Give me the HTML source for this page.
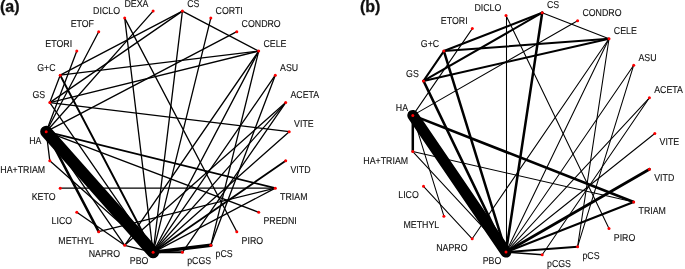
<!DOCTYPE html>
<html><head><meta charset="utf-8"><title>network</title>
<style>
html,body{margin:0;padding:0;background:#fff;}
body{width:685px;height:269px;position:relative;overflow:hidden;}
text{font-family:"Liberation Sans",sans-serif;}
.l{font-size:10px;fill:#111;stroke:#111;stroke-width:0.12px;text-rendering:geometricPrecision;}
.t{font-size:16px;font-weight:bold;fill:#111;stroke:#111;stroke-width:0.3px;}
</style></head><body>
<svg width="685" height="269" viewBox="0 0 685 269" style="position:absolute;left:0;top:0">
<line x1="46.2" y1="131.7" x2="153.1" y2="252.3" stroke="#000" stroke-width="12" stroke-linecap="round"/>
<line x1="153.1" y1="252.3" x2="210.8" y2="245.3" stroke="#000" stroke-width="3.6" stroke-linecap="round"/>
<line x1="153.1" y1="252.3" x2="182.4" y2="252.3" stroke="#000" stroke-width="1.9" stroke-linecap="round"/>
<line x1="60.2" y1="75.2" x2="153.1" y2="252.3" stroke="#000" stroke-width="1.9" stroke-linecap="round"/>
<line x1="46.2" y1="131.7" x2="275.3" y2="188.2" stroke="#000" stroke-width="1.8" stroke-linecap="round"/>
<line x1="285.7" y1="160.8" x2="153.1" y2="252.3" stroke="#000" stroke-width="1.8" stroke-linecap="round"/>
<line x1="46.2" y1="131.7" x2="98.7" y2="231.7" stroke="#000" stroke-width="2.5" stroke-linecap="round"/>
<line x1="98.7" y1="231.7" x2="275.3" y2="188.2" stroke="#000" stroke-width="1.3" stroke-linecap="round"/>
<line x1="76.8" y1="212.3" x2="124.7" y2="245.3" stroke="#000" stroke-width="1.3" stroke-linecap="round"/>
<line x1="182.4" y1="11.1" x2="60.2" y2="75.2" stroke="#000" stroke-width="1.3" stroke-linecap="round"/>
<line x1="182.4" y1="11.1" x2="49.8" y2="102.6" stroke="#000" stroke-width="1.3" stroke-linecap="round"/>
<line x1="182.4" y1="11.1" x2="258.7" y2="51.1" stroke="#000" stroke-width="1.3" stroke-linecap="round"/>
<line x1="182.4" y1="11.1" x2="153.1" y2="252.3" stroke="#000" stroke-width="1.3" stroke-linecap="round"/>
<line x1="258.7" y1="51.1" x2="60.2" y2="75.2" stroke="#000" stroke-width="1.3" stroke-linecap="round"/>
<line x1="258.7" y1="51.1" x2="49.8" y2="102.6" stroke="#000" stroke-width="1.3" stroke-linecap="round"/>
<line x1="258.7" y1="51.1" x2="124.7" y2="245.3" stroke="#000" stroke-width="1.3" stroke-linecap="round"/>
<line x1="258.7" y1="51.1" x2="153.1" y2="252.3" stroke="#000" stroke-width="1.3" stroke-linecap="round"/>
<line x1="258.7" y1="51.1" x2="210.8" y2="245.3" stroke="#000" stroke-width="1.3" stroke-linecap="round"/>
<line x1="275.3" y1="75.2" x2="153.1" y2="252.3" stroke="#000" stroke-width="1.3" stroke-linecap="round"/>
<line x1="275.3" y1="75.2" x2="210.8" y2="245.3" stroke="#000" stroke-width="1.3" stroke-linecap="round"/>
<line x1="285.7" y1="102.6" x2="124.7" y2="245.3" stroke="#000" stroke-width="1.3" stroke-linecap="round"/>
<line x1="285.7" y1="102.6" x2="153.1" y2="252.3" stroke="#000" stroke-width="1.3" stroke-linecap="round"/>
<line x1="285.7" y1="102.6" x2="182.4" y2="252.3" stroke="#000" stroke-width="1.3" stroke-linecap="round"/>
<line x1="275.3" y1="188.2" x2="153.1" y2="252.3" stroke="#000" stroke-width="1.3" stroke-linecap="round"/>
<line x1="289.2" y1="131.7" x2="49.8" y2="102.6" stroke="#000" stroke-width="1.3" stroke-linecap="round"/>
<line x1="289.2" y1="131.7" x2="153.1" y2="252.3" stroke="#000" stroke-width="1.3" stroke-linecap="round"/>
<line x1="258.7" y1="212.3" x2="46.2" y2="131.7" stroke="#000" stroke-width="1.3" stroke-linecap="round"/>
<line x1="236.8" y1="231.7" x2="124.7" y2="18.1" stroke="#000" stroke-width="1.3" stroke-linecap="round"/>
<line x1="124.7" y1="18.1" x2="153.1" y2="252.3" stroke="#000" stroke-width="1.3" stroke-linecap="round"/>
<line x1="153.1" y1="11.1" x2="46.2" y2="131.7" stroke="#000" stroke-width="1.3" stroke-linecap="round"/>
<line x1="98.7" y1="31.7" x2="46.2" y2="131.7" stroke="#000" stroke-width="1.3" stroke-linecap="round"/>
<line x1="76.8" y1="51.1" x2="46.2" y2="131.7" stroke="#000" stroke-width="1.3" stroke-linecap="round"/>
<line x1="236.8" y1="31.7" x2="46.2" y2="131.7" stroke="#000" stroke-width="1.3" stroke-linecap="round"/>
<line x1="210.8" y1="18.1" x2="153.1" y2="252.3" stroke="#000" stroke-width="1.3" stroke-linecap="round"/>
<line x1="60.2" y1="188.2" x2="275.3" y2="188.2" stroke="#000" stroke-width="1.3" stroke-linecap="round"/>
<line x1="60.2" y1="75.2" x2="49.8" y2="102.6" stroke="#000" stroke-width="1.3" stroke-linecap="round"/>
<line x1="49.8" y1="102.6" x2="153.1" y2="252.3" stroke="#000" stroke-width="1.3" stroke-linecap="round"/>
<line x1="46.2" y1="131.7" x2="49.8" y2="160.8" stroke="#000" stroke-width="1.3" stroke-linecap="round"/>
<line x1="49.8" y1="160.8" x2="153.1" y2="252.3" stroke="#000" stroke-width="1.3" stroke-linecap="round"/>
<line x1="124.7" y1="245.3" x2="153.1" y2="252.3" stroke="#000" stroke-width="1.3" stroke-linecap="round"/>
<line x1="46.2" y1="131.7" x2="124.7" y2="245.3" stroke="#000" stroke-width="1.3" stroke-linecap="round"/>
<line x1="412.8" y1="115.4" x2="506.0" y2="252.1" stroke="#000" stroke-width="11" stroke-linecap="round"/>
<line x1="412.8" y1="115.4" x2="412.8" y2="151.6" stroke="#000" stroke-width="2.5" stroke-linecap="round"/>
<line x1="412.8" y1="151.6" x2="633.7" y2="202.0" stroke="#000" stroke-width="1.05" stroke-linecap="round"/>
<line x1="412.8" y1="151.6" x2="506.0" y2="252.1" stroke="#000" stroke-width="1.05" stroke-linecap="round"/>
<line x1="412.8" y1="115.4" x2="443.9" y2="216.2" stroke="#000" stroke-width="1.05" stroke-linecap="round"/>
<line x1="423.5" y1="186.3" x2="472.2" y2="238.8" stroke="#000" stroke-width="1.05" stroke-linecap="round"/>
<line x1="472.2" y1="238.8" x2="609.0" y2="38.8" stroke="#000" stroke-width="1.05" stroke-linecap="round"/>
<line x1="472.3" y1="28.6" x2="412.8" y2="115.4" stroke="#000" stroke-width="1.05" stroke-linecap="round"/>
<line x1="506.5" y1="15.4" x2="506.5" y2="252.1" stroke="#000" stroke-width="1.05" stroke-linecap="round"/>
<line x1="506.0" y1="15.4" x2="609.0" y2="228.6" stroke="#000" stroke-width="1.05" stroke-linecap="round"/>
<line x1="577.6" y1="20.7" x2="412.8" y2="115.4" stroke="#000" stroke-width="1.05" stroke-linecap="round"/>
<line x1="542.2" y1="12.7" x2="443.9" y2="51.1" stroke="#000" stroke-width="2.1" stroke-linecap="round"/>
<line x1="542.2" y1="12.7" x2="423.5" y2="80.9" stroke="#000" stroke-width="2.1" stroke-linecap="round"/>
<line x1="542.2" y1="12.7" x2="609.0" y2="38.8" stroke="#000" stroke-width="1.1" stroke-linecap="round"/>
<line x1="542.2" y1="12.7" x2="506.0" y2="252.1" stroke="#000" stroke-width="2.5" stroke-linecap="round"/>
<line x1="443.9" y1="51.1" x2="609.0" y2="38.8" stroke="#000" stroke-width="2.0" stroke-linecap="round"/>
<line x1="443.9" y1="51.1" x2="423.5" y2="80.9" stroke="#000" stroke-width="2.0" stroke-linecap="round"/>
<line x1="443.9" y1="51.1" x2="506.0" y2="252.1" stroke="#000" stroke-width="2.5" stroke-linecap="round"/>
<line x1="423.5" y1="80.9" x2="609.0" y2="38.8" stroke="#000" stroke-width="2.0" stroke-linecap="round"/>
<line x1="423.5" y1="80.9" x2="506.0" y2="252.1" stroke="#000" stroke-width="2.5" stroke-linecap="round"/>
<line x1="412.8" y1="115.4" x2="633.7" y2="202.0" stroke="#000" stroke-width="2.6" stroke-linecap="round"/>
<line x1="649.4" y1="169.3" x2="506.0" y2="252.1" stroke="#000" stroke-width="2.8" stroke-linecap="round"/>
<line x1="633.7" y1="202.0" x2="506.0" y2="252.1" stroke="#000" stroke-width="2.2" stroke-linecap="round"/>
<line x1="506.0" y1="252.1" x2="577.6" y2="246.7" stroke="#000" stroke-width="2" stroke-linecap="round"/>
<line x1="506.0" y1="252.1" x2="542.2" y2="254.8" stroke="#000" stroke-width="1.5" stroke-linecap="round"/>
<line x1="609.0" y1="38.8" x2="506.0" y2="252.1" stroke="#000" stroke-width="1.05" stroke-linecap="round"/>
<line x1="609.0" y1="38.8" x2="577.6" y2="246.7" stroke="#000" stroke-width="1.05" stroke-linecap="round"/>
<line x1="633.7" y1="65.2" x2="506.0" y2="252.1" stroke="#000" stroke-width="1.05" stroke-linecap="round"/>
<line x1="633.7" y1="65.2" x2="577.6" y2="246.7" stroke="#000" stroke-width="1.05" stroke-linecap="round"/>
<line x1="649.4" y1="97.8" x2="506.0" y2="252.1" stroke="#000" stroke-width="1.05" stroke-linecap="round"/>
<line x1="649.4" y1="97.8" x2="542.2" y2="254.8" stroke="#000" stroke-width="1.05" stroke-linecap="round"/>
<line x1="654.8" y1="133.5" x2="506.0" y2="252.1" stroke="#000" stroke-width="1.05" stroke-linecap="round"/>
<circle cx="285.7" cy="102.6" r="1.5" fill="#f00"/>
<circle cx="275.3" cy="75.2" r="1.5" fill="#f00"/>
<circle cx="258.7" cy="51.1" r="1.5" fill="#f00"/>
<circle cx="236.8" cy="31.7" r="1.5" fill="#f00"/>
<circle cx="210.8" cy="18.1" r="1.5" fill="#f00"/>
<circle cx="182.4" cy="11.1" r="1.5" fill="#f00"/>
<circle cx="153.1" cy="11.1" r="1.5" fill="#f00"/>
<circle cx="124.7" cy="18.1" r="1.5" fill="#f00"/>
<circle cx="98.7" cy="31.7" r="1.5" fill="#f00"/>
<circle cx="76.8" cy="51.1" r="1.5" fill="#f00"/>
<circle cx="60.2" cy="75.2" r="1.5" fill="#f00"/>
<circle cx="49.8" cy="102.6" r="1.5" fill="#f00"/>
<circle cx="46.2" cy="131.7" r="1.5" fill="#f00"/>
<circle cx="49.8" cy="160.8" r="1.5" fill="#f00"/>
<circle cx="60.2" cy="188.2" r="1.5" fill="#f00"/>
<circle cx="76.8" cy="212.3" r="1.5" fill="#f00"/>
<circle cx="98.7" cy="231.7" r="1.5" fill="#f00"/>
<circle cx="124.7" cy="245.3" r="1.5" fill="#f00"/>
<circle cx="153.1" cy="252.3" r="1.5" fill="#f00"/>
<circle cx="182.4" cy="252.3" r="1.5" fill="#f00"/>
<circle cx="210.8" cy="245.3" r="1.5" fill="#f00"/>
<circle cx="236.8" cy="231.7" r="1.5" fill="#f00"/>
<circle cx="258.7" cy="212.3" r="1.5" fill="#f00"/>
<circle cx="275.3" cy="188.2" r="1.5" fill="#f00"/>
<circle cx="285.7" cy="160.8" r="1.5" fill="#f00"/>
<circle cx="289.2" cy="131.7" r="1.5" fill="#f00"/>
<circle cx="649.4" cy="97.8" r="1.5" fill="#f00"/>
<circle cx="633.7" cy="65.2" r="1.5" fill="#f00"/>
<circle cx="609.0" cy="38.8" r="1.5" fill="#f00"/>
<circle cx="577.6" cy="20.7" r="1.5" fill="#f00"/>
<circle cx="542.2" cy="12.7" r="1.5" fill="#f00"/>
<circle cx="506.0" cy="15.4" r="1.5" fill="#f00"/>
<circle cx="472.3" cy="28.6" r="1.5" fill="#f00"/>
<circle cx="443.9" cy="51.1" r="1.5" fill="#f00"/>
<circle cx="423.5" cy="80.9" r="1.5" fill="#f00"/>
<circle cx="412.8" cy="115.4" r="1.5" fill="#f00"/>
<circle cx="412.8" cy="151.6" r="1.5" fill="#f00"/>
<circle cx="423.5" cy="186.3" r="1.5" fill="#f00"/>
<circle cx="443.9" cy="216.2" r="1.5" fill="#f00"/>
<circle cx="472.2" cy="238.8" r="1.5" fill="#f00"/>
<circle cx="506.0" cy="252.1" r="1.5" fill="#f00"/>
<circle cx="542.2" cy="254.8" r="1.5" fill="#f00"/>
<circle cx="577.6" cy="246.7" r="1.5" fill="#f00"/>
<circle cx="609.0" cy="228.6" r="1.5" fill="#f00"/>
<circle cx="633.7" cy="202.0" r="1.5" fill="#f00"/>
<circle cx="649.4" cy="169.3" r="1.5" fill="#f00"/>
<circle cx="654.8" cy="133.5" r="1.5" fill="#f00"/>
<text transform="translate(290.5 98.2) scale(0.88 1)" text-anchor="start" class="l">ACETA</text>
<text transform="translate(280.1 70.8) scale(0.88 1)" text-anchor="start" class="l">ASU</text>
<text transform="translate(263.5 46.7) scale(0.88 1)" text-anchor="start" class="l">CELE</text>
<text transform="translate(241.6 27.3) scale(0.88 1)" text-anchor="start" class="l">CONDRO</text>
<text transform="translate(215.6 13.7) scale(0.88 1)" text-anchor="start" class="l">CORTI</text>
<text transform="translate(187.2 6.7) scale(0.88 1)" text-anchor="start" class="l">CS</text>
<text transform="translate(148.4 6.7) scale(0.88 1)" text-anchor="end" class="l">DEXA</text>
<text transform="translate(120.0 13.7) scale(0.88 1)" text-anchor="end" class="l">DICLO</text>
<text transform="translate(94.0 27.3) scale(0.88 1)" text-anchor="end" class="l">ETOF</text>
<text transform="translate(72.1 46.7) scale(0.88 1)" text-anchor="end" class="l">ETORI</text>
<text transform="translate(55.5 70.8) scale(0.88 1)" text-anchor="end" class="l">G+C</text>
<text transform="translate(45.1 98.2) scale(0.88 1)" text-anchor="end" class="l">GS</text>
<text transform="translate(41.5 143.6) scale(0.88 1)" text-anchor="end" class="l">HA</text>
<text transform="translate(45.1 172.7) scale(0.88 1)" text-anchor="end" class="l">HA+TRIAM</text>
<text transform="translate(55.5 200.1) scale(0.88 1)" text-anchor="end" class="l">KETO</text>
<text transform="translate(72.1 224.2) scale(0.88 1)" text-anchor="end" class="l">LICO</text>
<text transform="translate(94.0 243.6) scale(0.88 1)" text-anchor="end" class="l">METHYL</text>
<text transform="translate(120.0 257.2) scale(0.88 1)" text-anchor="end" class="l">NAPRO</text>
<text transform="translate(148.4 264.2) scale(0.88 1)" text-anchor="end" class="l">PBO</text>
<text transform="translate(187.2 264.2) scale(0.88 1)" text-anchor="start" class="l">pCGS</text>
<text transform="translate(215.6 257.2) scale(0.88 1)" text-anchor="start" class="l">pCS</text>
<text transform="translate(241.6 243.6) scale(0.88 1)" text-anchor="start" class="l">PIRO</text>
<text transform="translate(263.5 224.2) scale(0.88 1)" text-anchor="start" class="l">PREDNI</text>
<text transform="translate(280.1 200.1) scale(0.88 1)" text-anchor="start" class="l">TRIAM</text>
<text transform="translate(290.5 172.7) scale(0.88 1)" text-anchor="start" class="l">VITD</text>
<text transform="translate(294.1 127.3) scale(0.88 1)" text-anchor="start" class="l">VITE</text>
<text transform="translate(654.2 93.4) scale(0.88 1)" text-anchor="start" class="l">ACETA</text>
<text transform="translate(638.5 60.8) scale(0.88 1)" text-anchor="start" class="l">ASU</text>
<text transform="translate(613.8 34.4) scale(0.88 1)" text-anchor="start" class="l">CELE</text>
<text transform="translate(582.4 16.3) scale(0.88 1)" text-anchor="start" class="l">CONDRO</text>
<text transform="translate(547.0 8.3) scale(0.88 1)" text-anchor="start" class="l">CS</text>
<text transform="translate(501.3 11.0) scale(0.88 1)" text-anchor="end" class="l">DICLO</text>
<text transform="translate(467.6 24.2) scale(0.88 1)" text-anchor="end" class="l">ETORI</text>
<text transform="translate(439.2 46.7) scale(0.88 1)" text-anchor="end" class="l">G+C</text>
<text transform="translate(418.8 76.5) scale(0.88 1)" text-anchor="end" class="l">GS</text>
<text transform="translate(408.1 111.0) scale(0.88 1)" text-anchor="end" class="l">HA</text>
<text transform="translate(408.1 163.5) scale(0.88 1)" text-anchor="end" class="l">HA+TRIAM</text>
<text transform="translate(418.8 198.2) scale(0.88 1)" text-anchor="end" class="l">LICO</text>
<text transform="translate(439.2 228.1) scale(0.88 1)" text-anchor="end" class="l">METHYL</text>
<text transform="translate(467.5 250.7) scale(0.88 1)" text-anchor="end" class="l">NAPRO</text>
<text transform="translate(501.3 264.0) scale(0.88 1)" text-anchor="end" class="l">PBO</text>
<text transform="translate(547.0 266.7) scale(0.88 1)" text-anchor="start" class="l">pCGS</text>
<text transform="translate(582.4 258.6) scale(0.88 1)" text-anchor="start" class="l">pCS</text>
<text transform="translate(613.8 240.5) scale(0.88 1)" text-anchor="start" class="l">PIRO</text>
<text transform="translate(638.5 213.9) scale(0.88 1)" text-anchor="start" class="l">TRIAM</text>
<text transform="translate(654.2 181.2) scale(0.88 1)" text-anchor="start" class="l">VITD</text>
<text transform="translate(659.6 145.4) scale(0.88 1)" text-anchor="start" class="l">VITE</text>
<text x="0" y="11.7" class="t">(a)</text>
<text x="360" y="11.7" class="t">(b)</text>
</svg>
</body></html>
